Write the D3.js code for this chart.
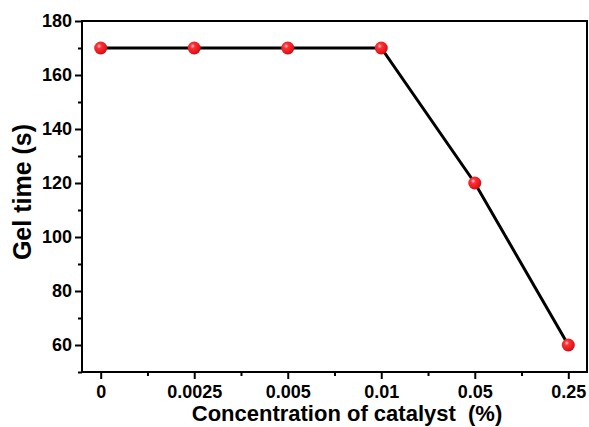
<!DOCTYPE html>
<html>
<head>
<meta charset="utf-8">
<script src="https://cdn.jsdelivr.net/npm/d3@7"></script>
<style>
  body { margin: 0; background: #fff; }
  text { font-family: "Liberation Sans", Arial, sans-serif; font-weight: bold; }
</style>
</head>
<body>
<div id="chart"></div>
<script>
// data
var concentrations = ["0", "0.0025", "0.005", "0.01", "0.05", "0.25"];
var gelTimes = [170, 170, 170, 170, 120, 60];
var yTicks = [60, 80, 100, 120, 140, 160, 180];

var margin = {top: 21, right: 2, bottom: 55, left: 82},
    width = 589 - margin.left - margin.right,
    height = 427 - margin.top - margin.bottom;

// x is an index scale so the points sit evenly with a little room at the ends
var x = d3.scaleLinear()
    .domain([-0.2, concentrations.length - 1 + 0.2])
    .range([0, width]);
var y = d3.scaleLinear()
    .domain([50, 180])
    .range([height, 0]);

var svg = d3.select("#chart").append("svg")
    .attr("width", width + margin.left + margin.right)
    .attr("height", height + margin.top + margin.bottom);

var defs = svg.append("defs");
var grad = defs.append("radialGradient")
    .attr("id", "ball")
    .attr("cx", "0.38").attr("cy", "0.35").attr("r", "0.7");
grad.append("stop").attr("offset", "0").attr("stop-color", "#ffd0d0");
grad.append("stop").attr("offset", "0.25").attr("stop-color", "#ff3036");
grad.append("stop").attr("offset", "0.8").attr("stop-color", "#e0141a");
grad.append("stop").attr("offset", "1").attr("stop-color", "#b00a10");

var g = svg.append("g")
    .attr("transform", "translate(" + margin.left + "," + margin.top + ")");

// frame
g.append("rect")
    .attr("width", width)
    .attr("height", height)
    .attr("fill", "none")
    .attr("stroke", "#000")
    .attr("stroke-width", 2);

// y axis: majors with labels, minors between
var yMinor = yTicks.map(function(d) { return d - 10; });
g.append("g")
    .call(d3.axisLeft(y).tickValues(yMinor).tickSize(4).tickFormat(""))
    .call(function(a) { a.select(".domain").remove(); })
    .selectAll("line").attr("stroke-width", 2);
var yAxis = g.append("g")
    .call(d3.axisLeft(y).tickValues(yTicks).tickSize(7).tickPadding(3))
    .call(function(a) { a.select(".domain").remove(); });
yAxis.selectAll("line").attr("stroke-width", 2);
yAxis.selectAll("text").style("font-size", "18px").attr("fill", "#000");

// x axis
var idx = d3.range(concentrations.length);
var xMinor = idx.slice(0, -1).map(function(i) { return i + 0.5; });
g.append("g")
    .attr("transform", "translate(0," + height + ")")
    .call(d3.axisBottom(x).tickValues(xMinor).tickSize(4).tickFormat(""))
    .call(function(a) { a.select(".domain").remove(); })
    .selectAll("line").attr("stroke-width", 2);
var xAxis = g.append("g")
    .attr("transform", "translate(0," + height + ")")
    .call(d3.axisBottom(x).tickValues(idx).tickSize(7).tickPadding(6)
      .tickFormat(function(i) { return concentrations[i]; }))
    .call(function(a) { a.select(".domain").remove(); });
xAxis.selectAll("line").attr("stroke-width", 2);
xAxis.selectAll("text").style("font-size", "18px").attr("fill", "#000");

// line
var line = d3.line()
    .x(function(d, i) { return x(i); })
    .y(function(d) { return y(d); });
g.append("path")
    .datum(gelTimes)
    .attr("fill", "none")
    .attr("stroke", "#000")
    .attr("stroke-width", 3)
    .attr("d", line);

// spheres
g.selectAll(".dot")
    .data(gelTimes)
  .enter().append("circle")
    .attr("class", "dot")
    .attr("cx", function(d, i) { return x(i); })
    .attr("cy", function(d) { return y(d); })
    .attr("r", 6.5)
    .attr("fill", "url(#ball)");

// axis titles
svg.append("text")
    .attr("transform", "translate(31,192) rotate(-90)")
    .attr("text-anchor", "middle")
    .style("font-size", "25px")
    .text("Gel time (s)");

svg.append("text")
    .attr("x", 347)
    .attr("y", 421)
    .attr("text-anchor", "middle")
    .style("font-size", "22px")
    .attr("xml:space", "preserve")
    .text("Concentration of catalyst  (%)");
</script>
</body>
</html>
